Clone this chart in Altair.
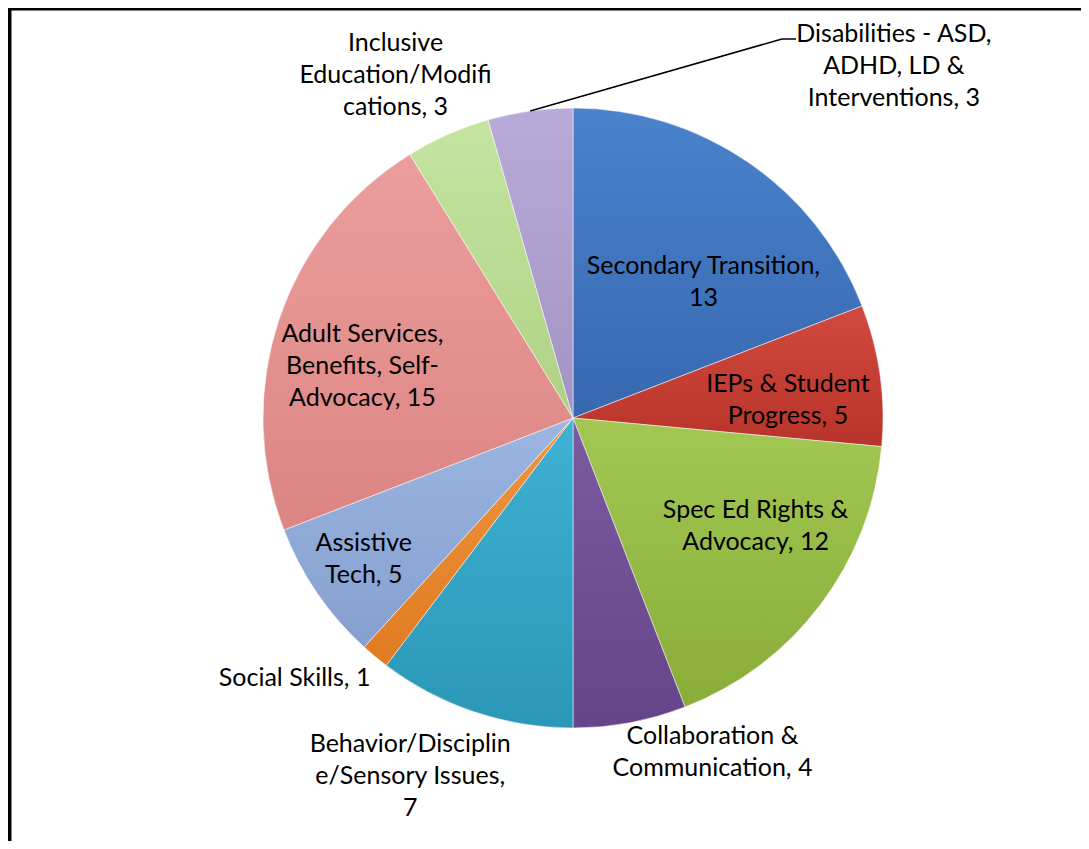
import math
import altair as alt
import pandas as pd

# ---- data ----
categories = [
    "Secondary Transition",
    "IEPs & Student Progress",
    "Spec Ed Rights & Advocacy",
    "Collaboration & Communication",
    "Behavior/Discipline/Sensory Issues",
    "Social Skills",
    "Assistive Tech",
    "Adult Services, Benefits, Self-Advocacy",
    "Inclusive Education/Modifications",
    "Disabilities - ASD, ADHD, LD & Interventions",
]
values = [13, 5, 12, 4, 7, 1, 5, 15, 3, 3]
labels = [
    "Secondary Transition,\n13",
    "IEPs & Student\nProgress, 5",
    "Spec Ed Rights &\nAdvocacy, 12",
    "Collaboration &\nCommunication, 4",
    "Behavior/Disciplin\ne/Sensory Issues,\n7",
    "Social Skills, 1",
    "Assistive\nTech, 5",
    "Adult Services,\nBenefits, Self-\nAdvocacy, 15",
    "Inclusive\nEducation/Modifi\ncations, 3",
    "Disabilities - ASD,\nADHD, LD &\nInterventions, 3",
]

# ---- style / layout ----
colors = ["#3768b0", "#b83329", "#8aad3a", "#664489", "#2b97b6",
          "#e07b22", "#859fcf", "#dc8583", "#afd285", "#a393c4"]
light = ["#4a82cc", "#d14a40", "#a2c752", "#7c5aa0", "#3fb1d2",
         "#f09540", "#9cb6e2", "#eb9e9c", "#c4e4a0", "#b9aad8"]
label_r = [190, 220, 215, 340, 380, 370, 250, 220, 370, 370]
label_nudge = [(23, 21), (-3, 12), (11, -22), (77, 0), (-42, -2),
               (-42, -25), (-3, 0), (-2, 18), (-28, -5), (372, 14)]

W, H = 1073, 833
CX, CY, R = 565, 410, 310
FONT = "Lato"
FS = 25
LH = 32

total = sum(values)
df = pd.DataFrame({"category": categories, "value": values,
                   "label": labels, "order": list(range(len(values)))})

theta_scale = alt.Scale(domain=[0, total], range=[0, 2 * math.pi])

base = (alt.Chart(df)
        .transform_window(cum="sum(value)", sort=[alt.SortField("order")],
                          frame=[None, 0])
        .transform_calculate(start="datum.cum - datum.value",
                             mid="datum.cum - datum.value / 2"))

layers = []
for i, cat in enumerate(categories):
    grad = alt.Gradient(
        gradient="linear",
        stops=[alt.GradientStop(color=light[i], offset=0),
               alt.GradientStop(color=colors[i], offset=1)],
        x1=0, y1=0, x2=0, y2=1)
    arc = (base.transform_filter(alt.datum.category == cat)
           .mark_arc(outerRadius=R, color=grad, stroke="#ffffff",
                     strokeOpacity=0.5, strokeWidth=1)
           .encode(theta=alt.Theta("start:Q", scale=theta_scale),
                   theta2="cum:Q",
                   x=alt.value(CX), y=alt.value(CY)))
    layers.append(arc)

for i, cat in enumerate(categories):
    dx, dy = label_nudge[i]
    nlines = labels[i].count("\n") + 1
    dy = dy - (nlines - 1) * LH / 2
    txt = (base.transform_filter(alt.datum.category == cat)
           .mark_text(radius=label_r[i], dx=dx, dy=dy, font=FONT, fontSize=FS,
                      lineBreak="\n", lineHeight=LH, align="center",
                      baseline="middle", color="#000000")
           .encode(theta=alt.Theta("mid:Q", scale=theta_scale),
                   text="label:N",
                   x=alt.value(CX), y=alt.value(CY)))
    layers.append(txt)

# leader line for the last slice
mid_last = (total - values[-1] / 2) / total * 2 * math.pi
sx = CX + R * math.sin(mid_last)
sy = CY - R * math.cos(mid_last)
ex, ey = 774, 31
leader1 = alt.Chart(df.head(1)).mark_rule(color="#000000", strokeWidth=1.5).encode(
    x=alt.value(sx), y=alt.value(sy), x2=alt.value(ex), y2=alt.value(ey))
leader2 = alt.Chart(df.head(1)).mark_rule(color="#000000", strokeWidth=1.5).encode(
    x=alt.value(ex), y=alt.value(ey), x2=alt.value(ex + 14), y2=alt.value(ey))

# frame lines (left and top)
left_border = alt.Chart(df.head(1)).mark_rule(color="#000000", strokeWidth=6).encode(
    x=alt.value(0.5), y=alt.value(0), y2=alt.value(H))
top_border = alt.Chart(df.head(1)).mark_rule(color="#000000", strokeWidth=4).encode(
    x=alt.value(0), x2=alt.value(W), y=alt.value(0.5))

chart = (alt.layer(*layers, leader1, leader2, left_border, top_border)
         .properties(width=W, height=H, padding=0,
                     autosize=alt.AutoSizeParams(type="none"))
         .configure_view(stroke=None)
         .configure(background="#ffffff"))

chart.save("out.html", embed_options={"renderer": "svg", "actions": False})
